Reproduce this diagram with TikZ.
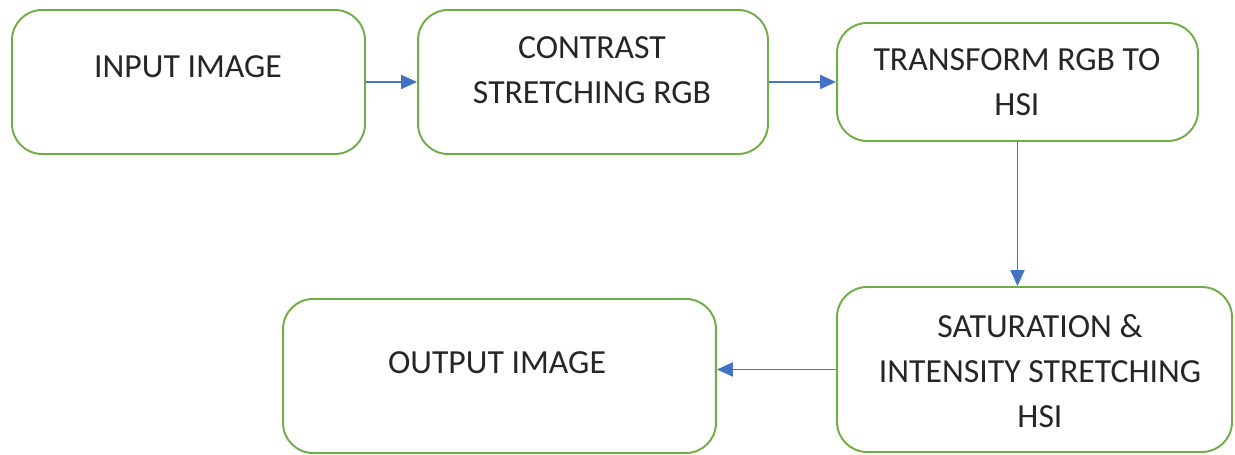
\documentclass[tikz,border=0pt]{standalone}
\usepackage{fontspec}
\setmainfont{Carlito}
\usetikzlibrary{arrows.meta,positioning,calc}
\definecolor{boxgreen}{RGB}{112,173,71}
\definecolor{arrowblue}{RGB}{68,114,196}

\begin{document}
\begin{tikzpicture}[
    x=0.02cm, y=-0.02cm,
    box/.style={rectangle, draw=boxgreen, line width=1.1pt, rounded corners=0.6cm, inner sep=0pt},
    txt/.style={align=center, font=\fontsize{19.2}{25.6}\selectfont, text=black!85, inner sep=0pt},
    arrow/.style={-{Triangle[length=0.32cm, width=0.28cm]}, draw=arrowblue, fill=arrowblue, line width=1.1pt}
]
\useasboundingbox (0,0) rectangle (1235,455);

% Boxes
\node[box, minimum width=7.06cm, minimum height=2.88cm] (in) at (188.5,82) {};
\node[box, minimum width=7.0cm, minimum height=2.88cm] (cs) at (593,82) {};
\node[box, minimum width=7.22cm, minimum height=2.36cm] (tr) at (1017.5,82) {};
\node[box, minimum width=7.9cm, minimum height=3.3cm] (sat) at (1034.5,369.5) {};
\node[box, minimum width=8.66cm, minimum height=3.08cm] (out) at (499.5,376) {};

% Texts
\node[txt] (inT) at (188,67) {INPUT IMAGE};
\node[txt] (csT) at (592,70) {CONTRAST\\STRETCHING RGB};
\node[txt] (trT) at (1017,82) {TRANSFORM RGB TO\\HSI};
\node[txt] (satT) at (1040,371) {SATURATION \&\\INTENSITY STRETCHING\\HSI};
\node[txt] (outT) at (497,363) {OUTPUT IMAGE};

% Arrows
\foreach \i/\j in {in/cs, cs/tr} {
    \draw[arrow] (\i.east) -- (\j.west);
}
\draw[arrow] (tr.south) -- (tr.south |- sat.north);
\draw[arrow] (sat.west) -- (sat.west -| out.east);

\end{tikzpicture}
\end{document}
